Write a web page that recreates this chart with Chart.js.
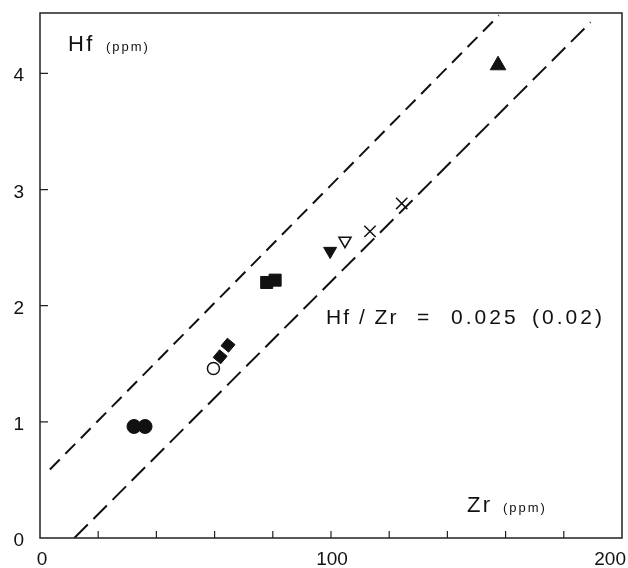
<!DOCTYPE html>
<html>
<head>
<meta charset="utf-8">
<title>Hf vs Zr</title>
<script src="https://cdn.jsdelivr.net/npm/chart.js@4/dist/chart.umd.min.js"></script>
<style>
    html, body { margin: 0; padding: 0; background: #fff; }
    canvas { display: block; }
</style>
</head>
<body>
<canvas id="hfzr" width="628" height="568"></canvas>
<script>
// Zr (ppm), Hf (ppm) pairs
const filledCircle = [[32.3, 0.96], [36.1, 0.96]];
const openCircle = [[59.6, 1.46]];
const filledDiamond = [[61.9, 1.56], [64.6, 1.66]];
const filledSquare = [[77.9, 2.20], [80.8, 2.22]];
const filledDownTriangle = [[99.7, 2.47]];
const openDownTriangle = [[104.8, 2.56]];
const crosses = [[113.4, 2.64], [124.3, 2.88]];
const filledUpTriangle = [[157.4, 4.07]];

// dashed envelope lines (end points)
const upperLine = [[3.4, 0.59], [157.7, 4.5]];
const lowerLine = [[11.8, 0], [189.2, 4.44]];

// axes
const xLabelTicks = [0, 100, 200];
const xTickMarks = [20, 40, 60, 80, 100, 120, 140, 160, 180];
const yLabelTicks = [0, 1, 2, 3, 4];
const yTickMarks = [1, 2, 3, 4];

const ink = '#111';
const fontFamily = '"Liberation Sans", Arial, Helvetica, sans-serif';

const toPoints = (pairs) => pairs.map(p => ({ x: p[0], y: p[1] }));

// marker dataset helper
function markers(pairs, style, radius, filled, rotation) {
    return {
        data: toPoints(pairs),
        pointStyle: style,
        pointRadius: radius,
        pointRotation: rotation || 0,
        pointBackgroundColor: filled ? ink : '#fff',
        pointBorderColor: ink,
        pointBorderWidth: filled ? 1 : 1.5,
        showLine: false
    };
}

function dashed(pairs, dash) {
    return {
        data: toPoints(pairs),
        showLine: true,
        borderColor: ink,
        borderWidth: 2,
        borderDash: dash,
        pointRadius: 0,
        fill: false
    };
}

// draw text with letter spacing
function spacedText(ctx, text, px, py, size, spacing) {
    ctx.font = size + 'px ' + fontFamily;
    ctx.letterSpacing = spacing + 'px';
    ctx.fillText(text, px, py);
}

const frameAndText = {
    id: 'frameAndText',
    afterDraw: (chart) => {
        const { ctx, chartArea: a, scales } = chart;
        const x = scales.x, y = scales.y;
        ctx.save();

        // plot frame
        ctx.strokeStyle = '#222';
        ctx.lineWidth = 1.5;
        ctx.strokeRect(a.left, a.top, a.right - a.left, a.bottom - a.top);

        // inward tick marks
        ctx.beginPath();
        xTickMarks.forEach(v => {
            const px = x.getPixelForValue(v);
            ctx.moveTo(px, a.bottom);
            ctx.lineTo(px, a.bottom - 7);
        });
        yTickMarks.forEach(v => {
            const py = y.getPixelForValue(v);
            ctx.moveTo(a.left, py);
            ctx.lineTo(a.left + 8, py);
        });
        ctx.lineWidth = 1.2;
        ctx.stroke();

        ctx.fillStyle = ink;
        ctx.textBaseline = 'alphabetic';

        // tick labels (kept inside the canvas like the original)
        ctx.font = '19px ' + fontFamily;
        ctx.textAlign = 'right';
        yLabelTicks.forEach(v => {
            ctx.fillText(String(v), a.left - 16, y.getPixelForValue(v) + 8);
        });
        xLabelTicks.forEach((v, i) => {
            const last = i === xLabelTicks.length - 1;
            ctx.textAlign = last ? 'right' : 'center';
            const px = last ? a.right + 4 : x.getPixelForValue(v) + (i === 0 ? 2 : 1);
            ctx.fillText(String(v), px, a.bottom + 27);
        });

        // labels inside the plot
        ctx.textAlign = 'left';
        let px = x.getPixelForValue(9.6), py = y.getPixelForValue(4.19);
        spacedText(ctx, 'Hf', px, py, 22, 2.5);
        spacedText(ctx, '(ppm)', px + 38, py, 13, 2);

        px = x.getPixelForValue(146.7); py = y.getPixelForValue(0.224);
        spacedText(ctx, 'Zr', px, py, 22, 2.5);
        spacedText(ctx, '(ppm)', px + 36, py, 13, 2);

        px = x.getPixelForValue(98.3); py = y.getPixelForValue(1.845);
        spacedText(ctx, 'Hf / Zr', px, py, 21, 2);
        spacedText(ctx, '=', px + 91, py, 21, 2);
        spacedText(ctx, '0.025', px + 125, py, 21, 3);
        spacedText(ctx, '(0.02)', px + 206, py, 21, 3);

        ctx.restore();
    }
};

new Chart(document.getElementById('hfzr'), {
    type: 'scatter',
    data: {
        datasets: [
            markers(filledCircle, 'circle', 7, true),
            markers(openCircle, 'circle', 6, false),
            markers(filledDiamond, 'rect', 7, true, 40),
            markers(filledSquare, 'rect', 8.5, true),
            markers(filledDownTriangle, 'triangle', 7.5, true, 180),
            markers(openDownTriangle, 'triangle', 7, false, 180),
            markers(crosses, 'crossRot', 8, false),
            markers(filledUpTriangle, 'triangle', 9, true),
            dashed(upperLine, [14, 8]),
            dashed(lowerLine, [19, 8])
        ]
    },
    options: {
        responsive: false,
        animation: false,
        layout: { autoPadding: false, padding: { top: 13, right: 6, left: 0, bottom: 0 } },
        plugins: {
            legend: { display: false },
            tooltip: { enabled: false }
        },
        scales: {
            x: {
                type: 'linear',
                min: 0,
                max: 200,
                grid: { display: false, drawTicks: false },
                border: { display: false },
                afterBuildTicks: (s) => { s.ticks = xLabelTicks.map(v => ({ value: v })); },
                afterFit: (s) => { s.height = 30; },
                ticks: { display: false, padding: 0 }
            },
            y: {
                type: 'linear',
                min: 0,
                max: 4.52,
                grid: { display: false, drawTicks: false },
                border: { display: false },
                afterBuildTicks: (s) => { s.ticks = yLabelTicks.map(v => ({ value: v })); },
                afterFit: (s) => { s.width = 40; },
                ticks: { display: false, padding: 0 }
            }
        }
    },
    plugins: [frameAndText]
});
</script>
</body>
</html>
